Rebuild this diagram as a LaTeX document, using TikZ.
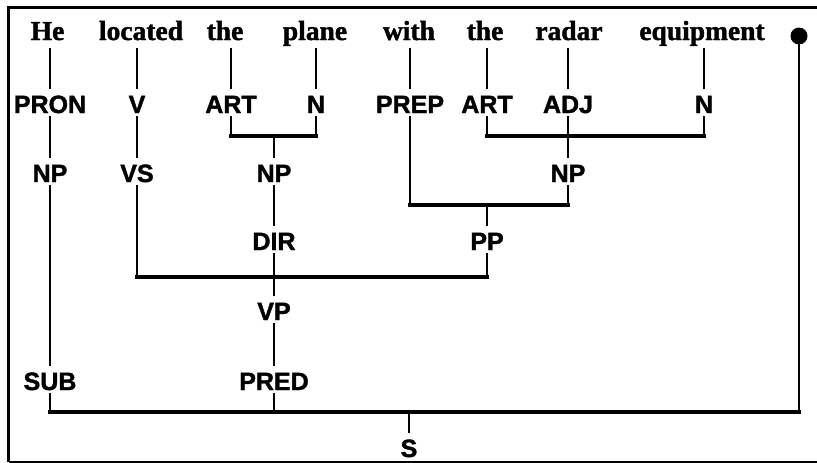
\documentclass[tikz,border=0pt]{standalone}
\usepackage{fontspec}
\newfontfamily\wordfont{Liberation Serif Bold}[FakeBold=1.5]
\newfontfamily\labfont{Liberation Sans Bold}[FakeBold=1.5]
\begin{document}
\begin{tikzpicture}[x=1pt,y=-1pt,
  word/.style={anchor=base,inner sep=0pt,text height=20pt,text depth=8pt,font=\fontsize{27.5}{30}\wordfont},
  lab/.style={anchor=base,inner sep=0pt,text height=24pt,text depth=3pt,font=\fontsize{25}{28}\labfont},
  vline/.style={line width=2pt},
  hbar/.style={line width=3.2pt,line cap=rect},
  frame/.style={line width=3.5pt}]
\useasboundingbox (0,0) rectangle (817,463);
% frame
\coordinate (ftl) at (8.5,7.5);
\coordinate (ftr) at (818,7.5);
\coordinate (fbl) at (8.5,461.5);
\coordinate (fbr) at (818,461.5);
\draw[frame] (ftr) -- (ftl) -- (fbl);
\draw[line width=2pt] (fbl) -- (fbr);
% words
\node[word] (w1) at (47.5,40) {He};
\node[word] (w2) at (141,40) {located};
\node[word] (w3) at (225,40) {the};
\node[word] (w4) at (315,40) {plane};
\node[word] (w5) at (409,40) {with};
\node[word] (w6) at (485,40) {the};
\node[word] (w7) at (569,40) {radar};
\node[word] (w8) at (702,40) {equipment};
\node[circle,fill,inner sep=0pt,minimum size=17pt] (dot) at (799,36) {};
% row 1
\node[lab] (pron) at (50,113) {PRON};
\node[lab] (v) at (137,113) {V};
\node[lab] (art1) at (231,113) {ART};
\node[lab] (n1) at (316,113) {N};
\node[lab] (prep) at (410,113) {PREP};
\node[lab] (art2) at (487,113) {ART};
\node[lab] (adj) at (568,113) {ADJ};
\node[lab] (n2) at (704,113) {N};
% row 2
\node[lab] (np1) at (50,182) {NP};
\node[lab] (vs) at (137,182) {VS};
\node[lab] (np2) at (274,182) {NP};
\node[lab] (np3) at (568,182) {NP};
% row 3
\node[lab] (dir) at (274,250) {DIR};
\node[lab] (pp) at (487,250) {PP};
% row 4
\node[lab] (vp) at (274,320) {VP};
% row 5
\node[lab] (sub) at (50,390) {SUB};
\node[lab] (pred) at (274,390) {PRED};
% row 6
\node[lab] (s) at (409,457) {S};
% word to label lines
\draw[vline] (pron.north) -- (pron.north |- w1.south);
\draw[vline] (v.north) -- (v.north |- w2.south);
\draw[vline] (art1.north) -- (art1.north |- w3.south);
\draw[vline] (n1.north) -- (n1.north |- w4.south);
\draw[vline] (prep.north) -- (prep.north |- w5.south);
\draw[vline] (art2.north) -- (art2.north |- w6.south);
\draw[vline] (adj.north) -- (adj.north |- w7.south);
\draw[vline] (n2.north) -- (n2.north |- w8.south);
% bracket coordinates
\coordinate (b1) at (274,136);
\coordinate (b2) at (568,136);
\coordinate (b3) at (487,205);
\coordinate (b4) at (274,277);
\coordinate (b5) at (409,412);
% NP (the plane)
\draw[vline] (art1.south) -- (art1.south |- b1);
\draw[vline] (n1.south) -- (n1.south |- b1);
\draw[hbar] (art1.south |- b1) -- (n1.south |- b1);
\draw[vline] (b1) -- (np2.north);
% NP (the radar equipment)
\draw[vline] (art2.south) -- (art2.south |- b2);
\draw[vline] (n2.south) -- (n2.south |- b2);
\draw[hbar] (art2.south |- b2) -- (n2.south |- b2);
\draw[vline] (adj.south) -- (np3.north);
% PP
\draw[vline] (prep.south) -- (prep.south |- b3);
\draw[vline] (np3.south) -- (np3.south |- b3);
\draw[hbar] (prep.south |- b3) -- (np3.south |- b3);
\draw[vline] (b3) -- (pp.north);
% VP
\draw[vline] (v.south) -- (vs.north);
\draw[vline] (np2.south) -- (dir.north);
\draw[vline] (vs.south) -- (vs.south |- b4);
\draw[vline] (pp.south) -- (pp.south |- b4);
\draw[hbar] (vs.south |- b4) -- (pp.south |- b4);
\draw[vline] (dir.south) -- (vp.north);
\draw[vline] (vp.south) -- (pred.north);
% subject
\draw[vline] (pron.south) -- (np1.north);
\draw[vline] (np1.south) -- (sub.north);
% S
\draw[vline] (sub.south) -- (sub.south |- b5);
\draw[vline] (pred.south) -- (pred.south |- b5);
\draw[vline] (dot.center) -- (dot.center |- b5);
\draw[hbar] (sub.south |- b5) -- (dot.center |- b5);
\draw[vline] (b5) -- (s.north);
\end{tikzpicture}
\end{document}
